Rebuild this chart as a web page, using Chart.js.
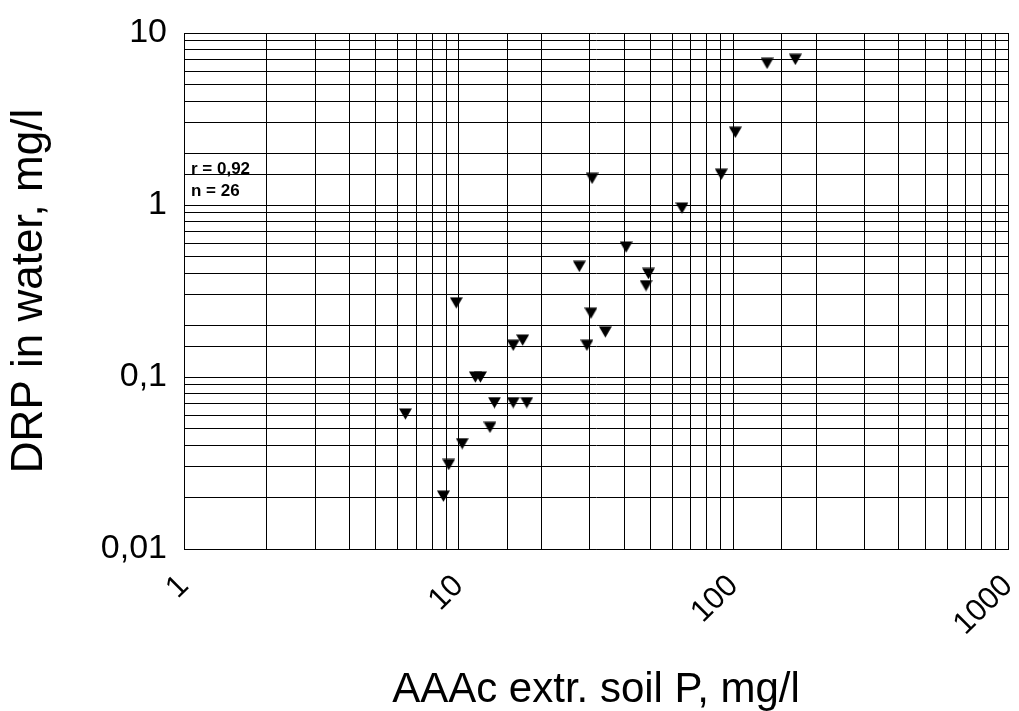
<!DOCTYPE html>
<html>
<head>
<meta charset="utf-8">
<title>DRP vs AAAc soil P</title>
<script src="https://cdn.jsdelivr.net/npm/chart.js@4/dist/chart.umd.min.js"></script>
<style>
  html, body { margin: 0; padding: 0; background: #fff; }
  #wrap { width: 1019px; height: 711px; }
</style>
</head>
<body>
<div id="wrap"><canvas id="chart" width="1019" height="711"></canvas></div>
<script>
// Soil P (AAAc extractable, mg/l) and dissolved reactive P in water (mg/l)
const soilP = [9.8, 30.3, 34.2, 29.3, 15.8, 17.1, 11.5, 12.0, 6.4, 13.5, 15.8, 17.7, 13.0,
               10.3, 9.2, 8.8, 30.6, 65.0, 40.7, 27.5, 49.1, 48.1, 132.7, 168.2, 101.7, 90.4];
const drp   = [0.27, 0.235, 0.183, 0.153, 0.153, 0.164, 0.1, 0.1, 0.061, 0.071, 0.071, 0.071, 0.051,
               0.041, 0.031, 0.0203, 1.43, 0.96, 0.57, 0.44, 0.40, 0.34, 6.67, 7.03, 2.65, 1.51];

const xTickValues = [1, 10, 100, 1000];
const xTickLabels = ['1', '10', '100', '1000'];
const yTickValues = [0.01, 0.1, 1, 10];
const yTickLabels = ['0,01', '0,1', '1', '10'];

const statsLines = ['r = 0,92', 'n = 26'];

const FONT = '"Liberation Sans", Arial, Helvetica, sans-serif';

function labelFor(values, labels) {
  return function (value) {
    const i = values.findIndex(v => Math.abs(v - value) < v * 1e-6);
    return i >= 0 ? labels[i] : '';
  };
}

// Downward triangle marker, centred on its bounding box
const marker = document.createElement('canvas');
marker.width = 13;
marker.height = 12;
(function () {
  const c = marker.getContext('2d');
  c.fillStyle = '#000';
  c.beginPath();
  c.moveTo(0, 0.5);
  c.lineTo(13, 0.5);
  c.lineTo(6.5, 11.8);
  c.closePath();
  c.fill();
})();

const statsText = {
  id: 'statsText',
  afterDraw(chart) {
    const ctx = chart.ctx;
    const a = chart.chartArea;
    ctx.save();
    ctx.fillStyle = '#000';
    ctx.font = 'bold 17px ' + FONT;
    ctx.textAlign = 'left';
    ctx.textBaseline = 'alphabetic';
    statsLines.forEach((t, i) => ctx.fillText(t, a.left + 7, 174 + i * 22));
    ctx.restore();
  }
};

new Chart(document.getElementById('chart'), {
  type: 'scatter',
  data: {
    datasets: [{
      data: soilP.map((x, i) => ({ x: x, y: drp[i] })),
      pointStyle: marker,
      pointRadius: 6,
      pointHoverRadius: 6,
      backgroundColor: '#000',
      borderWidth: 0
    }]
  },
  options: {
    responsive: false,
    animation: false,
    devicePixelRatio: 1,
    layout: { padding: { left: 0, top: 33, right: 11, bottom: 0 } },
    plugins: { legend: { display: false }, tooltip: { enabled: false } },
    scales: {
      x: {
        type: 'logarithmic',
        min: 1,
        max: 1000,
        grid: { color: '#000', lineWidth: 1, drawTicks: false },
        border: { color: '#000', width: 1 },
        ticks: {
          autoSkip: false,
          minRotation: 45,
          maxRotation: 45,
          padding: 32,
          color: '#000',
          font: { family: FONT, size: 31, lineHeight: 0 },
          callback: labelFor(xTickValues, xTickLabels)
        },
        title: {
          display: true,
          text: 'AAAc extr. soil P, mg/l',
          color: '#000',
          font: { family: FONT, size: 42, lineHeight: 1 },
          padding: { top: 0, bottom: 0 }
        },
        afterFit(s) {
          s.height = 162;
          s.paddingLeft = 0; s.paddingRight = 0;
        }
      },
      y: {
        type: 'logarithmic',
        min: 0.01,
        max: 10,
        grid: { color: '#000', lineWidth: 1, drawTicks: false },
        border: { color: '#000', width: 1 },
        ticks: {
          autoSkip: false,
          padding: 17,
          color: '#000',
          font: { family: FONT, size: 34 },
          callback: labelFor(yTickValues, yTickLabels)
        },
        title: {
          display: true,
          text: 'DRP in water, mg/l',
          color: '#000',
          font: { family: FONT, size: 44, lineHeight: 1 },
          padding: { top: 8, bottom: 0 }
        },
        afterFit(s) {
          s.width = 184;
          s.paddingTop = 0; s.paddingBottom = 0;
        }
      }
    }
  },
  plugins: [statsText]
});
</script>
</body>
</html>
